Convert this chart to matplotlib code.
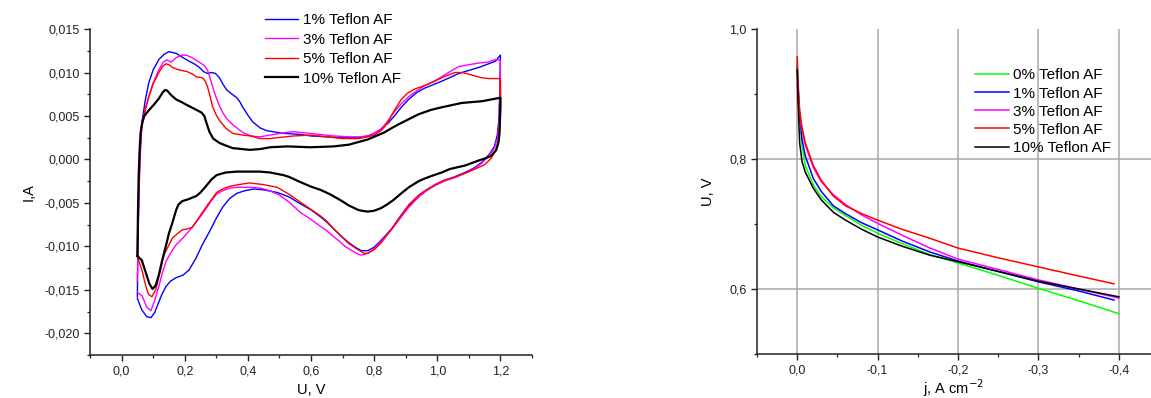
import matplotlib
matplotlib.use("Agg")
import matplotlib.pyplot as plt
from matplotlib.ticker import FuncFormatter, MultipleLocator

plt.rcParams['font.family'] = ['Liberation Sans', 'DejaVu Sans']

# ---- left panel: cyclic voltammograms (U in V, I in A), anodic then cathodic sweep
u_1 = [0.05, 0.052, 0.056, 0.060, 0.064, 0.075, 0.086, 0.100, 0.118, 0.135, 0.150, 0.173, 0.195, 0.214, 0.230, 0.246,
       0.260, 0.272, 0.285, 0.297, 0.310, 0.322, 0.333, 0.350, 0.365, 0.375, 0.384, 0.400, 0.416, 0.440, 0.461, 0.512,
       0.560, 0.600, 0.650, 0.700, 0.750, 0.780, 0.800, 0.822, 0.845, 0.864, 0.886, 0.909, 0.935, 0.960, 1.014, 1.069,
       1.133, 1.184, 1.200,
       1.198, 1.195, 1.190, 1.181, 1.165, 1.142, 1.120, 1.100, 1.056, 1.020, 0.992, 0.965, 0.941, 0.910, 0.886, 0.855,
       0.822, 0.800, 0.780, 0.760, 0.740, 0.717, 0.695, 0.672, 0.650, 0.630, 0.600, 0.566, 0.530, 0.493, 0.450, 0.420,
       0.390, 0.365, 0.342, 0.320, 0.301, 0.280, 0.256, 0.235, 0.214, 0.195, 0.173, 0.155, 0.141, 0.128, 0.118, 0.105,
       0.093, 0.080, 0.064, 0.050]
i_1 = [-0.0158, -0.009, -0.002, 0.0020, 0.0042, 0.0068, 0.0088, 0.0103, 0.0115, 0.0121, 0.0124, 0.0122, 0.0117, 0.0113,
       0.0110, 0.0106, 0.0101, 0.0099, 0.0100, 0.0099, 0.0094, 0.0086, 0.0080, 0.0075, 0.0071, 0.0066, 0.0060, 0.0051,
       0.0043, 0.0036, 0.0033, 0.0030, 0.0029, 0.0027, 0.0026, 0.0025, 0.0025, 0.0027, 0.0030, 0.0035, 0.0042, 0.0050,
       0.0060, 0.0069, 0.0077, 0.0082, 0.0090, 0.0099, 0.0106, 0.0113, 0.0120,
       0.0080, 0.0045, 0.0028, 0.0015, 0.0006, -0.0003, -0.0009, -0.0013, -0.0020, -0.0025, -0.0030, -0.0036, -0.0043,
       -0.0053, -0.0064, -0.0080, -0.0093, -0.0101, -0.0105, -0.0105, -0.0101, -0.0095, -0.0088, -0.0080, -0.0072,
       -0.0066, -0.0058, -0.0051, -0.0043, -0.0038, -0.0035, -0.0034, -0.0036, -0.0039, -0.0045, -0.0055, -0.0067,
       -0.0082, -0.0098, -0.0114, -0.0127, -0.0133, -0.0136, -0.0140, -0.0146, -0.0155, -0.0164, -0.0176, -0.0182,
       -0.0181, -0.0173, -0.0160]

u_3 = [0.05, 0.052, 0.056, 0.060, 0.064, 0.075, 0.086, 0.100, 0.118, 0.132, 0.144, 0.157, 0.173, 0.190, 0.205, 0.224,
       0.246, 0.262, 0.272, 0.280, 0.294, 0.307, 0.320, 0.335, 0.352, 0.384, 0.410, 0.438, 0.470, 0.520, 0.544, 0.570,
       0.620, 0.672, 0.720, 0.760, 0.790, 0.822, 0.845, 0.864, 0.886, 0.909, 0.935, 0.960, 0.990, 1.014, 1.040, 1.069,
       1.100, 1.133, 1.160, 1.184, 1.200,
       1.199, 1.196, 1.191, 1.181, 1.165, 1.142, 1.120, 1.100, 1.056, 1.020, 0.992, 0.965, 0.941, 0.910, 0.886, 0.855,
       0.822, 0.800, 0.780, 0.760, 0.749, 0.725, 0.704, 0.690, 0.672, 0.650, 0.630, 0.600, 0.566, 0.534, 0.500, 0.470,
       0.440, 0.406, 0.370, 0.342, 0.320, 0.301, 0.285, 0.269, 0.245, 0.224, 0.200, 0.185, 0.173, 0.160, 0.141, 0.128,
       0.118, 0.105, 0.093, 0.080, 0.065, 0.050]
i_3 = [-0.0140, -0.009, -0.003, 0.0010, 0.0036, 0.0056, 0.0072, 0.0088, 0.0103, 0.0112, 0.01145, 0.0112, 0.0117,
       0.0120, 0.0120, 0.0117, 0.0112, 0.0108, 0.0103, 0.0094, 0.0077, 0.0064, 0.0054, 0.0046, 0.0040, 0.0031, 0.0027,
       0.0026, 0.0028, 0.0031, 0.0032, 0.0031, 0.0029, 0.0027, 0.0026, 0.0026, 0.0028, 0.0035, 0.0045, 0.0055, 0.0064,
       0.0072, 0.0079, 0.0085, 0.0090, 0.0095, 0.0101, 0.0107, 0.0109, 0.0111, 0.0112, 0.0115, 0.0114,
       0.0080, 0.0045, 0.0025, 0.0013, 0.0005, -0.0004, -0.0010, -0.0014, -0.0021, -0.0025, -0.0030, -0.0036, -0.0043,
       -0.0055, -0.0066, -0.0081, -0.0094, -0.0103, -0.0108, -0.0110, -0.0109, -0.0104, -0.0099, -0.0094, -0.0089,
       -0.0082, -0.0077, -0.0069, -0.0061, -0.0050, -0.0041, -0.0036, -0.0033, -0.0032, -0.0032, -0.0033, -0.0036,
       -0.0040, -0.0047, -0.0056, -0.0068, -0.0078, -0.0088, -0.0094, -0.0098, -0.0105, -0.0117, -0.0132, -0.0146,
       -0.0162, -0.0174, -0.0170, -0.0157, -0.0153]

u_5 = [0.05, 0.052, 0.056, 0.060, 0.064, 0.075, 0.086, 0.100, 0.118, 0.130, 0.141, 0.150, 0.160, 0.182, 0.208, 0.225,
       0.237, 0.256, 0.265, 0.272, 0.280, 0.288, 0.300, 0.310, 0.330, 0.352, 0.384, 0.410, 0.438, 0.470, 0.493, 0.544,
       0.598, 0.650, 0.700, 0.750, 0.780, 0.800, 0.822, 0.840, 0.854, 0.870, 0.886, 0.905, 0.928, 0.960, 0.992, 1.020,
       1.056, 1.080, 1.110, 1.140, 1.165, 1.200,
       1.201, 1.198, 1.193, 1.185, 1.170, 1.150, 1.120, 1.100, 1.056, 1.020, 0.992, 0.965, 0.941, 0.910, 0.886, 0.865,
       0.845, 0.822, 0.800, 0.780, 0.768, 0.745, 0.717, 0.695, 0.672, 0.650, 0.630, 0.598, 0.566, 0.530, 0.493, 0.450,
       0.406, 0.370, 0.342, 0.320, 0.301, 0.285, 0.269, 0.245, 0.224, 0.208, 0.192, 0.175, 0.160, 0.145, 0.134, 0.125,
       0.118, 0.108, 0.096, 0.085, 0.077, 0.065, 0.054, 0.050]
i_5 = [-0.0111, -0.006, -0.001, 0.0020, 0.0040, 0.0058, 0.0072, 0.0087, 0.0100, 0.0107, 0.0110, 0.0109, 0.0106, 0.0103,
       0.0101, 0.0098, 0.0095, 0.0094, 0.0090, 0.0084, 0.0073, 0.0061, 0.0051, 0.0045, 0.0036, 0.0030, 0.0028, 0.0027,
       0.0024, 0.0024, 0.0025, 0.0027, 0.0028, 0.0026, 0.0024, 0.0024, 0.0026, 0.0028, 0.0033, 0.0041, 0.0050, 0.0060,
       0.0069, 0.0076, 0.0081, 0.0085, 0.0090, 0.0095, 0.0100, 0.0100, 0.0097, 0.0094, 0.0093, 0.0093,
       0.0060, 0.0035, 0.0020, 0.0010, 0.0001, -0.0006, -0.0011, -0.0014, -0.0020, -0.0024, -0.0029, -0.0035, -0.0041,
       -0.0052, -0.0064, -0.0075, -0.0085, -0.0096, -0.0104, -0.0108, -0.0108, -0.0103, -0.0096, -0.0088, -0.0080,
       -0.0071, -0.0065, -0.0057, -0.0049, -0.0040, -0.0032, -0.0029, -0.0027, -0.0029, -0.0031, -0.0034, -0.0038,
       -0.0046, -0.0054, -0.0067, -0.0078, -0.0080, -0.0081, -0.0086, -0.0091, -0.0102, -0.0110, -0.0124, -0.0135,
       -0.0150, -0.0158, -0.0155, -0.0146, -0.0128, -0.0116, -0.0111]

u_10 = [0.05, 0.052, 0.054, 0.057, 0.060, 0.065, 0.072, 0.085, 0.100, 0.118, 0.130, 0.138, 0.145, 0.157, 0.173, 0.190,
        0.205, 0.237, 0.253, 0.262, 0.269, 0.278, 0.290, 0.310, 0.330, 0.352, 0.380, 0.406, 0.440, 0.470, 0.525, 0.598,
        0.672, 0.720, 0.780, 0.832, 0.860, 0.886, 0.941, 0.980, 1.014, 1.078, 1.142, 1.200,
        1.199, 1.197, 1.194, 1.187, 1.170, 1.150, 1.133, 1.088, 1.040, 1.014, 0.982, 0.960, 0.941, 0.910, 0.886, 0.860,
        0.840, 0.822, 0.800, 0.780, 0.760, 0.749, 0.720, 0.694, 0.660, 0.630, 0.598, 0.566, 0.530, 0.512, 0.470, 0.438,
        0.400, 0.365, 0.330, 0.301, 0.285, 0.269, 0.250, 0.237, 0.210, 0.192, 0.180, 0.173, 0.160, 0.150, 0.140, 0.128,
        0.118, 0.108, 0.098, 0.088, 0.080, 0.064, 0.050]
i_10 = [-0.0111, -0.006, -0.002, 0.0010, 0.0030, 0.0042, 0.0050, 0.0056, 0.0062, 0.0070, 0.0077, 0.0080, 0.0079,
        0.0074, 0.0069, 0.0066, 0.0063, 0.0057, 0.0054, 0.0050, 0.0042, 0.0032, 0.0024, 0.0019, 0.0016, 0.0013, 0.0012,
        0.0011, 0.0012, 0.0014, 0.0015, 0.0014, 0.0015, 0.0017, 0.0023, 0.0031, 0.0037, 0.0042, 0.0052, 0.0057, 0.0060,
        0.0065, 0.0067, 0.0071,
        0.0050, 0.0030, 0.0020, 0.0011, 0.0004, 0.0001, -0.0001, -0.0007, -0.0011, -0.0015, -0.0019, -0.0022, -0.0025,
        -0.0032, -0.0039, -0.0047, -0.0052, -0.0056, -0.0059, -0.0060, -0.0059, -0.0058, -0.0053, -0.0047, -0.0040,
        -0.0035, -0.0031, -0.0026, -0.0020, -0.0018, -0.0015, -0.0014, -0.0014, -0.0014, -0.0015, -0.0018, -0.0023,
        -0.0030, -0.0038, -0.0042, -0.0046, -0.0048, -0.0052, -0.0058, -0.0074, -0.0085, -0.0100, -0.0117, -0.0133,
        -0.0145, -0.0149, -0.0143, -0.0134, -0.0116, -0.0111]

cv_labels = ['1% Teflon AF', '3% Teflon AF', '5% Teflon AF', '10% Teflon AF']

# ---- right panel: polarisation curves (j in A cm-2, U in V)
j_grid = [0.0, -0.001, -0.003, -0.006, -0.01, -0.02, -0.03, -0.045, -0.06, -0.08, -0.1, -0.13, -0.165, -0.2,
          -0.25, -0.3, -0.35, -0.4]
j_end_short = -0.394
U_0 = [0.949, 0.900, 0.860, 0.820, 0.790, 0.760, 0.742, 0.725, 0.713, 0.698, 0.686, 0.670, 0.653, 0.640, 0.621,
       0.601, 0.582, 0.562]
U_1 = [0.942, 0.910, 0.870, 0.830, 0.805, 0.770, 0.750, 0.728, 0.716, 0.702, 0.691, 0.674, 0.657, 0.643, 0.627,
       0.611, 0.597, 0.583]
U_3 = [0.917, 0.890, 0.865, 0.845, 0.822, 0.787, 0.765, 0.745, 0.730, 0.714, 0.701, 0.683, 0.663, 0.646, 0.630,
       0.614, 0.600, 0.586]
U_5 = [0.957, 0.920, 0.875, 0.848, 0.825, 0.790, 0.767, 0.743, 0.728, 0.716, 0.706, 0.692, 0.678, 0.663, 0.648,
       0.634, 0.620, 0.608]
U_10 = [0.937, 0.890, 0.825, 0.796, 0.780, 0.755, 0.737, 0.718, 0.706, 0.692, 0.680, 0.666, 0.652, 0.642, 0.627,
        0.612, 0.600, 0.588]
pol_labels = ['0% Teflon AF', '1% Teflon AF', '3% Teflon AF', '5% Teflon AF', '10% Teflon AF']


def comma(fmt):
    return FuncFormatter(lambda v, p: (fmt % (0.0 if abs(v) < 1e-12 else v)).replace('.', ','))


def style_axes(ax):
    ax.spines['right'].set_visible(False)
    ax.spines['top'].set_visible(False)
    for s in ('left', 'bottom'):
        ax.spines[s].set_linewidth(1.1)
        ax.spines[s].set_color('#222222')
    ax.tick_params(which='major', direction='out', length=4, width=1.0, colors='#222222', labelsize=9)
    ax.tick_params(which='minor', direction='out', length=2.5, width=0.9, colors='#222222')


fig = plt.figure(figsize=(11.51, 3.98), dpi=100)

# left
ax1 = fig.add_axes([0.0782, 0.108, 0.384, 0.819])
ax1.plot(u_1, i_1, color='#0000ff', lw=1.0, label=cv_labels[0])
ax1.plot(u_3, i_3, color='#ff00ff', lw=1.0, label=cv_labels[1])
ax1.plot(u_5, i_5, color='#ff0000', lw=1.0, label=cv_labels[2])
ax1.plot(u_10, i_10, color='#000000', lw=1.6, label=cv_labels[3])
ax1.set_xlim(-0.1, 1.3)
ax1.set_ylim(-0.0225, 0.015)
ax1.xaxis.set_major_locator(MultipleLocator(0.2))
ax1.xaxis.set_minor_locator(MultipleLocator(0.1))
ax1.yaxis.set_major_locator(MultipleLocator(0.005))
ax1.yaxis.set_minor_locator(MultipleLocator(0.0025))
ax1.xaxis.set_major_formatter(comma('%.1f'))
ax1.yaxis.set_major_formatter(comma('%.3f'))
style_axes(ax1)
ax1.set_xlabel('U, V', fontsize=10.5, labelpad=4)
ax1.set_ylabel('I,A', fontsize=10.5, labelpad=6)
ax1.legend(loc='upper left', bbox_to_anchor=(0.230, 0.967), bbox_transform=fig.transFigure, frameon=False,
           fontsize=11, handlelength=2.2, handletextpad=0.3, labelspacing=0.36, borderpad=0, borderaxespad=0)

# right
ax2 = fig.add_axes([0.6577, 0.1106, 0.3423, 0.8164])
ax2.plot(j_grid, U_0, color='#00ff00', lw=1.1, label=pol_labels[0])
ax2.plot(j_grid[:-1] + [j_end_short], U_1, color='#0000ff', lw=1.1, label=pol_labels[1])
ax2.plot(j_grid, U_3, color='#ff00ff', lw=1.1, label=pol_labels[2])
ax2.plot(j_grid[:-1] + [j_end_short], U_5, color='#ff0000', lw=1.1, label=pol_labels[3])
ax2.plot(j_grid, U_10, color='#000000', lw=1.1, label=pol_labels[4])
ax2.set_xlim(0.05, -0.44)
ax2.set_ylim(0.5, 1.0)
ax2.set_xticks([0.0, -0.1, -0.2, -0.3, -0.4])
ax2.set_xticks([0.05, -0.05, -0.15, -0.25, -0.35], minor=True)
ax2.set_yticks([0.6, 0.8, 1.0])
ax2.set_yticks([0.5, 0.7, 0.9], minor=True)
ax2.xaxis.set_major_formatter(comma('%.1f'))
ax2.yaxis.set_major_formatter(comma('%.1f'))
style_axes(ax2)
ax2.grid(True, which='major', color='#a8a8a8', lw=1.1)
ax2.get_ygridlines()[-1].set_visible(False)
ax2.set_axisbelow(True)
ax2.set_xlabel('j, A cm$^{-2}$', fontsize=10.5, labelpad=1)
ax2.set_ylabel('U, V', fontsize=10.5, labelpad=10)
ax2.legend(loc='upper left', bbox_to_anchor=(0.847, 0.828), bbox_transform=fig.transFigure, frameon=False,
           fontsize=11, handlelength=2.2, handletextpad=0.3, labelspacing=0.27, borderpad=0, borderaxespad=0)

fig.savefig('out.png', dpi=100)
